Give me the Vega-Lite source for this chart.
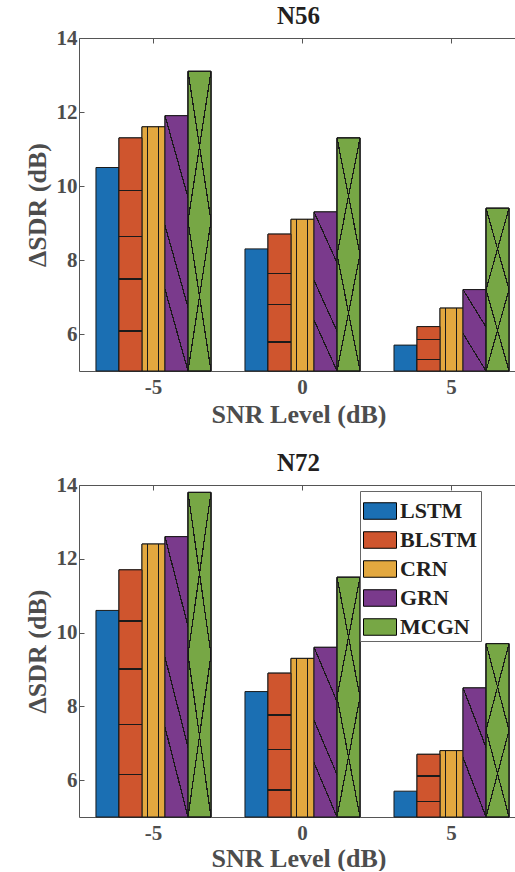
{
  "$schema": "https://vega.github.io/schema/vega-lite/v6.json",
  "padding": {"left": 24, "top": 4, "right": 0, "bottom": 0},
  "config": {
    "font": "Liberation Serif",
    "view": {"stroke": null},
    "axis": {
      "labelFont": "Liberation Serif", "labelFontWeight": "bold", "labelFontSize": 21, "labelColor": "#4d4d4d",
      "titleFont": "Liberation Serif", "titleFontWeight": "bold", "titleFontSize": 26, "titleColor": "#4d4d4d",
      "domainColor": "#555555", "tickColor": "#555555", "grid": false
    },
    "legend": {"labelFont": "Liberation Serif"},
    "title": {"font": "Liberation Serif", "fontWeight": "bold", "fontSize": 25, "color": "#231f20"}
  },
  "datasets": {
    "n56": [
      {"snr": "-5", "model": "LSTM", "sdr": 10.5},
      {"snr": "-5", "model": "BLSTM", "sdr": 11.3},
      {"snr": "-5", "model": "CRN", "sdr": 11.6},
      {"snr": "-5", "model": "GRN", "sdr": 11.9},
      {"snr": "-5", "model": "MCGN", "sdr": 13.1},
      {"snr": "0", "model": "LSTM", "sdr": 8.3},
      {"snr": "0", "model": "BLSTM", "sdr": 8.7},
      {"snr": "0", "model": "CRN", "sdr": 9.1},
      {"snr": "0", "model": "GRN", "sdr": 9.3},
      {"snr": "0", "model": "MCGN", "sdr": 11.3},
      {"snr": "5", "model": "LSTM", "sdr": 5.7},
      {"snr": "5", "model": "BLSTM", "sdr": 6.2},
      {"snr": "5", "model": "CRN", "sdr": 6.7},
      {"snr": "5", "model": "GRN", "sdr": 7.2},
      {"snr": "5", "model": "MCGN", "sdr": 9.4}
    ],
    "n72": [
      {"snr": "-5", "model": "LSTM", "sdr": 10.6},
      {"snr": "-5", "model": "BLSTM", "sdr": 11.7},
      {"snr": "-5", "model": "CRN", "sdr": 12.4},
      {"snr": "-5", "model": "GRN", "sdr": 12.6},
      {"snr": "-5", "model": "MCGN", "sdr": 13.8},
      {"snr": "0", "model": "LSTM", "sdr": 8.4},
      {"snr": "0", "model": "BLSTM", "sdr": 8.9},
      {"snr": "0", "model": "CRN", "sdr": 9.3},
      {"snr": "0", "model": "GRN", "sdr": 9.6},
      {"snr": "0", "model": "MCGN", "sdr": 11.5},
      {"snr": "5", "model": "LSTM", "sdr": 5.7},
      {"snr": "5", "model": "BLSTM", "sdr": 6.7},
      {"snr": "5", "model": "CRN", "sdr": 6.8},
      {"snr": "5", "model": "GRN", "sdr": 8.5},
      {"snr": "5", "model": "MCGN", "sdr": 9.7}
    ]
  },
  "spacing": 24,
  "resolve": {"legend": {"color": "independent"}},
  "vconcat": [
    {
      "title": {"text": "N56", "offset": -2},
      "width": 439, "height": 333,
      "data": {"name": "n56"},
      "resolve": {"axis": {"x": "independent"}},
      "encoding": {
        "x": {"field": "snr", "type": "nominal", "sort": null,
              "scale": {"paddingInner": 0.228, "paddingOuter": 0.087, "align": 0.654},
              "axis": {"title": "SNR Level (dB)", "labelAngle": 0, "tickSize": -5, "labelPadding": 10, "titlePadding": 4}},
        "xOffset": {"field": "model", "type": "nominal", "sort": ["LSTM", "BLSTM", "CRN", "GRN", "MCGN"]},
        "y": {"field": "sdr", "type": "quantitative",
              "scale": {"domain": [5, 14], "nice": false, "zero": false},
              "axis": {"values": [6, 8, 10, 12, 14], "title": "ΔSDR (dB)", "tickSize": -5, "labelPadding": 7, "titlePadding": 6}},
        "y2": {"datum": 5}
      },
      "layer": [
        {
          "mark": {"type": "bar", "stroke": "#1a1a1a", "strokeWidth": 1},
          "encoding": {
            "color": {"field": "model", "type": "nominal",
                      "scale": {"domain": ["LSTM", "BLSTM", "CRN", "GRN", "MCGN"], "range": ["#1B6FB3", "#CF552E", "#E3A83F", "#7A3A8C", "#77A745"]},
                      "legend": null}
          }
        },
        {
          "transform": [{"filter": "datum.model == 'CRN'"}],
          "encoding": {"x": {"field": "snr", "type": "nominal", "sort": null, "axis": null}},
          "mark": {"type": "bar", "stroke": "#1a1a1a", "strokeWidth": 1,
                   "fill": {"gradient": "linear", "x1": 0, "y1": 0, "x2": 1, "y2": 0, "stops": [
                     {"offset": 0, "color": "#E3A83F"}, {"offset": 0.2, "color": "#E3A83F"}, {"offset": 0.2, "color": "#1a1a1a"},
                     {"offset": 0.245, "color": "#1a1a1a"}, {"offset": 0.245, "color": "#E3A83F"}, {"offset": 0.68, "color": "#E3A83F"},
                     {"offset": 0.68, "color": "#1a1a1a"}, {"offset": 0.725, "color": "#1a1a1a"}, {"offset": 0.725, "color": "#E3A83F"},
                     {"offset": 1, "color": "#E3A83F"}]}}
        },
        {
          "transform": [{"filter": "datum.model == 'BLSTM' && datum.snr == '-5'"}],
          "encoding": {"x": {"field": "snr", "type": "nominal", "sort": null, "axis": null}},
          "mark": {"type": "bar", "stroke": "#1a1a1a", "strokeWidth": 1,
                   "fill": {"gradient": "linear", "x1": 0, "y1": 0, "x2": 0, "y2": 1, "stops": [
                     {"offset": 0, "color": "#CF552E"}, {"offset": 0.222, "color": "#CF552E"}, {"offset": 0.222, "color": "#1a1a1a"},
                     {"offset": 0.228, "color": "#1a1a1a"}, {"offset": 0.228, "color": "#CF552E"}, {"offset": 0.421, "color": "#CF552E"},
                     {"offset": 0.421, "color": "#1a1a1a"}, {"offset": 0.427, "color": "#1a1a1a"}, {"offset": 0.427, "color": "#CF552E"},
                     {"offset": 0.603, "color": "#CF552E"}, {"offset": 0.603, "color": "#1a1a1a"}, {"offset": 0.609, "color": "#1a1a1a"},
                     {"offset": 0.609, "color": "#CF552E"}, {"offset": 0.825, "color": "#CF552E"}, {"offset": 0.825, "color": "#1a1a1a"},
                     {"offset": 0.831, "color": "#1a1a1a"}, {"offset": 0.831, "color": "#CF552E"}, {"offset": 1, "color": "#CF552E"}]}}
        },
        {
          "transform": [{"filter": "datum.model == 'BLSTM' && datum.snr == '0'"}],
          "encoding": {"x": {"field": "snr", "type": "nominal", "sort": null, "axis": null}},
          "mark": {"type": "bar", "stroke": "#1a1a1a", "strokeWidth": 1,
                   "fill": {"gradient": "linear", "x1": 0, "y1": 0, "x2": 0, "y2": 1, "stops": [
                     {"offset": 0, "color": "#CF552E"}, {"offset": 0.284, "color": "#CF552E"}, {"offset": 0.284, "color": "#1a1a1a"},
                     {"offset": 0.294, "color": "#1a1a1a"}, {"offset": 0.294, "color": "#CF552E"}, {"offset": 0.508, "color": "#CF552E"},
                     {"offset": 0.508, "color": "#1a1a1a"}, {"offset": 0.518, "color": "#1a1a1a"}, {"offset": 0.518, "color": "#CF552E"},
                     {"offset": 0.784, "color": "#CF552E"}, {"offset": 0.784, "color": "#1a1a1a"}, {"offset": 0.794, "color": "#1a1a1a"},
                     {"offset": 0.794, "color": "#CF552E"}, {"offset": 1, "color": "#CF552E"}]}}
        },
        {
          "transform": [{"filter": "datum.model == 'BLSTM' && datum.snr == '5'"}],
          "encoding": {"x": {"field": "snr", "type": "nominal", "sort": null, "axis": null}},
          "mark": {"type": "bar", "stroke": "#1a1a1a", "strokeWidth": 1,
                   "fill": {"gradient": "linear", "x1": 0, "y1": 0, "x2": 0, "y2": 1, "stops": [
                     {"offset": 0, "color": "#CF552E"}, {"offset": 0.283, "color": "#CF552E"}, {"offset": 0.283, "color": "#1a1a1a"},
                     {"offset": 0.313, "color": "#1a1a1a"}, {"offset": 0.313, "color": "#CF552E"}, {"offset": 0.733, "color": "#CF552E"},
                     {"offset": 0.733, "color": "#1a1a1a"}, {"offset": 0.763, "color": "#1a1a1a"}, {"offset": 0.763, "color": "#CF552E"},
                     {"offset": 1, "color": "#CF552E"}]}}
        },
        {
          "transform": [{"filter": "datum.model == 'GRN' && datum.snr != '5'"}],
          "encoding": {"x": {"field": "snr", "type": "nominal", "sort": null, "axis": null}},
          "mark": {"type": "bar", "stroke": "#1a1a1a", "strokeWidth": 1,
                   "fill": {"gradient": "linear", "x1": 1, "y1": 0, "x2": 0.6168, "y2": 1.1974, "stops": [
                     {"offset": 0, "color": "#7A3A8C"}, {"offset": 0.2356, "color": "#7A3A8C"}, {"offset": 0.2356, "color": "#1a1a1a"},
                     {"offset": 0.2492, "color": "#1a1a1a"}, {"offset": 0.2492, "color": "#7A3A8C"}, {"offset": 0.5614, "color": "#7A3A8C"},
                     {"offset": 0.5614, "color": "#1a1a1a"}, {"offset": 0.575, "color": "#1a1a1a"}, {"offset": 0.575, "color": "#7A3A8C"},
                     {"offset": 0.7508, "color": "#7A3A8C"}, {"offset": 0.7508, "color": "#1a1a1a"}, {"offset": 0.7644, "color": "#1a1a1a"},
                     {"offset": 0.7644, "color": "#7A3A8C"}, {"offset": 1, "color": "#7A3A8C"}]}}
        },
        {
          "transform": [{"filter": "datum.model == 'GRN' && datum.snr == '5'"}],
          "encoding": {"x": {"field": "snr", "type": "nominal", "sort": null, "axis": null}},
          "mark": {"type": "bar", "stroke": "#1a1a1a", "strokeWidth": 1,
                   "fill": {"gradient": "linear", "x1": 1, "y1": 0, "x2": 0.4457, "y2": 1.205, "stops": [
                     {"offset": 0, "color": "#7A3A8C"}, {"offset": 0.3057, "color": "#7A3A8C"}, {"offset": 0.3057, "color": "#1a1a1a"},
                     {"offset": 0.3243, "color": "#1a1a1a"}, {"offset": 0.3243, "color": "#7A3A8C"}, {"offset": 0.6756, "color": "#7A3A8C"},
                     {"offset": 0.6756, "color": "#1a1a1a"}, {"offset": 0.6942, "color": "#1a1a1a"}, {"offset": 0.6942, "color": "#7A3A8C"},
                     {"offset": 1, "color": "#7A3A8C"}]}}
        },
        {
          "transform": [{"filter": "datum.model == 'MCGN'"}],
          "encoding": {"x": {"field": "snr", "type": "nominal", "sort": null, "axis": null}},
          "mark": {"type": "bar", "stroke": "#1a1a1a", "strokeWidth": 1,
                   "fill": {"gradient": "linear", "x1": 1, "y1": 0, "x2": 0.4, "y2": 1.2, "stops": [
                     {"offset": 0, "color": "#77A745"}, {"offset": 0.3245, "color": "#77A745"}, {"offset": 0.3245, "color": "#1a1a1a"},
                     {"offset": 0.3421, "color": "#1a1a1a"}, {"offset": 0.3421, "color": "#77A745"}, {"offset": 0.6579, "color": "#77A745"},
                     {"offset": 0.6579, "color": "#1a1a1a"}, {"offset": 0.6755, "color": "#1a1a1a"}, {"offset": 0.6755, "color": "#77A745"},
                     {"offset": 1, "color": "#77A745"}]}}
        },
        {
          "transform": [{"filter": "datum.model == 'MCGN'"}],
          "encoding": {"x": {"field": "snr", "type": "nominal", "sort": null, "axis": null}},
          "mark": {"type": "bar", "stroke": "#1a1a1a", "strokeWidth": 1,
                   "fill": {"gradient": "linear", "x1": 0, "y1": 0, "x2": 0.6, "y2": 1.2, "stops": [
                     {"offset": 0, "color": "transparent"}, {"offset": 0.3245, "color": "transparent"}, {"offset": 0.3245, "color": "#1a1a1a"},
                     {"offset": 0.3421, "color": "#1a1a1a"}, {"offset": 0.3421, "color": "transparent"}, {"offset": 0.6579, "color": "transparent"},
                     {"offset": 0.6579, "color": "#1a1a1a"}, {"offset": 0.6755, "color": "#1a1a1a"}, {"offset": 0.6755, "color": "transparent"},
                     {"offset": 1, "color": "transparent"}]}}
        },
        {
          "mark": {"type": "bar", "opacity": 0},
          "encoding": {
            "x": {"field": "snr", "type": "nominal", "sort": null,
                  "axis": {"orient": "top", "labels": false, "title": null, "tickSize": -5, "domainColor": "#555555"}}
          }
        }
      ]
    },
    {
      "title": {"text": "N72", "offset": -2},
      "width": 439, "height": 332,
      "data": {"name": "n72"},
      "resolve": {"axis": {"x": "independent"}},
      "encoding": {
        "x": {"field": "snr", "type": "nominal", "sort": null,
              "scale": {"paddingInner": 0.228, "paddingOuter": 0.087, "align": 0.654},
              "axis": {"title": "SNR Level (dB)", "labelAngle": 0, "tickSize": -5, "labelPadding": 10, "titlePadding": 2}},
        "xOffset": {"field": "model", "type": "nominal", "sort": ["LSTM", "BLSTM", "CRN", "GRN", "MCGN"]},
        "y": {"field": "sdr", "type": "quantitative",
              "scale": {"domain": [5, 14], "nice": false, "zero": false},
              "axis": {"values": [6, 8, 10, 12, 14], "title": "ΔSDR (dB)", "tickSize": -5, "labelPadding": 7, "titlePadding": 6}},
        "y2": {"datum": 5}
      },
      "layer": [
        {
          "mark": {"type": "bar", "stroke": "#1a1a1a", "strokeWidth": 1},
          "encoding": {
            "color": {"field": "model", "type": "nominal",
                      "scale": {"domain": ["LSTM", "BLSTM", "CRN", "GRN", "MCGN"], "range": ["#1B6FB3", "#CF552E", "#E3A83F", "#7A3A8C", "#77A745"]},
                      "legend": {"orient": "none", "legendX": 281, "legendY": 6, "title": null,
                                 "symbolType": "M-1,-0.5H1V0.5H-1Z", "symbolSize": 1089,
                                 "symbolStrokeColor": "#000000", "symbolStrokeWidth": 1, "symbolOpacity": 1,
                                 "labelFont": "Liberation Serif", "labelFontWeight": "bold", "labelFontSize": 22, "labelColor": "#231f20",
                                 "labelOffset": 3, "labelLimit": 300, "rowPadding": 1,
                                 "strokeColor": "#666666", "fillColor": "#ffffff", "padding": 3}}
          }
        },
        {
          "transform": [{"filter": "datum.model == 'CRN'"}],
          "encoding": {"x": {"field": "snr", "type": "nominal", "sort": null, "axis": null}},
          "mark": {"type": "bar", "stroke": "#1a1a1a", "strokeWidth": 1,
                   "fill": {"gradient": "linear", "x1": 0, "y1": 0, "x2": 1, "y2": 0, "stops": [
                     {"offset": 0, "color": "#E3A83F"}, {"offset": 0.22, "color": "#E3A83F"}, {"offset": 0.22, "color": "#1a1a1a"},
                     {"offset": 0.265, "color": "#1a1a1a"}, {"offset": 0.265, "color": "#E3A83F"}, {"offset": 0.7, "color": "#E3A83F"},
                     {"offset": 0.7, "color": "#1a1a1a"}, {"offset": 0.745, "color": "#1a1a1a"}, {"offset": 0.745, "color": "#E3A83F"},
                     {"offset": 1, "color": "#E3A83F"}]}}
        },
        {
          "transform": [{"filter": "datum.model == 'BLSTM' && datum.snr == '-5'"}],
          "encoding": {"x": {"field": "snr", "type": "nominal", "sort": null, "axis": null}},
          "mark": {"type": "bar", "stroke": "#1a1a1a", "strokeWidth": 1,
                   "fill": {"gradient": "linear", "x1": 0, "y1": 0, "x2": 0, "y2": 1, "stops": [
                     {"offset": 0, "color": "#CF552E"}, {"offset": 0.204, "color": "#CF552E"}, {"offset": 0.204, "color": "#1a1a1a"},
                     {"offset": 0.21, "color": "#1a1a1a"}, {"offset": 0.21, "color": "#CF552E"}, {"offset": 0.399, "color": "#CF552E"},
                     {"offset": 0.399, "color": "#1a1a1a"}, {"offset": 0.405, "color": "#1a1a1a"}, {"offset": 0.405, "color": "#CF552E"},
                     {"offset": 0.622, "color": "#CF552E"}, {"offset": 0.622, "color": "#1a1a1a"}, {"offset": 0.628, "color": "#1a1a1a"},
                     {"offset": 0.628, "color": "#CF552E"}, {"offset": 0.825, "color": "#CF552E"}, {"offset": 0.825, "color": "#1a1a1a"},
                     {"offset": 0.831, "color": "#1a1a1a"}, {"offset": 0.831, "color": "#CF552E"}, {"offset": 1, "color": "#CF552E"}]}}
        },
        {
          "transform": [{"filter": "datum.model == 'BLSTM' && datum.snr == '0'"}],
          "encoding": {"x": {"field": "snr", "type": "nominal", "sort": null, "axis": null}},
          "mark": {"type": "bar", "stroke": "#1a1a1a", "strokeWidth": 1,
                   "fill": {"gradient": "linear", "x1": 0, "y1": 0, "x2": 0, "y2": 1, "stops": [
                     {"offset": 0, "color": "#CF552E"}, {"offset": 0.287, "color": "#CF552E"}, {"offset": 0.287, "color": "#1a1a1a"},
                     {"offset": 0.296, "color": "#1a1a1a"}, {"offset": 0.296, "color": "#CF552E"}, {"offset": 0.528, "color": "#CF552E"},
                     {"offset": 0.528, "color": "#1a1a1a"}, {"offset": 0.537, "color": "#1a1a1a"}, {"offset": 0.537, "color": "#CF552E"},
                     {"offset": 0.808, "color": "#CF552E"}, {"offset": 0.808, "color": "#1a1a1a"}, {"offset": 0.817, "color": "#1a1a1a"},
                     {"offset": 0.817, "color": "#CF552E"}, {"offset": 1, "color": "#CF552E"}]}}
        },
        {
          "transform": [{"filter": "datum.model == 'BLSTM' && datum.snr == '5'"}],
          "encoding": {"x": {"field": "snr", "type": "nominal", "sort": null, "axis": null}},
          "mark": {"type": "bar", "stroke": "#1a1a1a", "strokeWidth": 1,
                   "fill": {"gradient": "linear", "x1": 0, "y1": 0, "x2": 0, "y2": 1, "stops": [
                     {"offset": 0, "color": "#CF552E"}, {"offset": 0.335, "color": "#CF552E"}, {"offset": 0.335, "color": "#1a1a1a"},
                     {"offset": 0.355, "color": "#1a1a1a"}, {"offset": 0.355, "color": "#CF552E"}, {"offset": 0.741, "color": "#CF552E"},
                     {"offset": 0.741, "color": "#1a1a1a"}, {"offset": 0.761, "color": "#1a1a1a"}, {"offset": 0.761, "color": "#CF552E"},
                     {"offset": 1, "color": "#CF552E"}]}}
        },
        {
          "transform": [{"filter": "datum.model == 'GRN' && datum.snr != '5'"}],
          "encoding": {"x": {"field": "snr", "type": "nominal", "sort": null, "axis": null}},
          "mark": {"type": "bar", "stroke": "#1a1a1a", "strokeWidth": 1,
                   "fill": {"gradient": "linear", "x1": 1, "y1": 0, "x2": 0.6168, "y2": 1.1974, "stops": [
                     {"offset": 0, "color": "#7A3A8C"}, {"offset": 0.2356, "color": "#7A3A8C"}, {"offset": 0.2356, "color": "#1a1a1a"},
                     {"offset": 0.2492, "color": "#1a1a1a"}, {"offset": 0.2492, "color": "#7A3A8C"}, {"offset": 0.5614, "color": "#7A3A8C"},
                     {"offset": 0.5614, "color": "#1a1a1a"}, {"offset": 0.575, "color": "#1a1a1a"}, {"offset": 0.575, "color": "#7A3A8C"},
                     {"offset": 0.7508, "color": "#7A3A8C"}, {"offset": 0.7508, "color": "#1a1a1a"}, {"offset": 0.7644, "color": "#1a1a1a"},
                     {"offset": 0.7644, "color": "#7A3A8C"}, {"offset": 1, "color": "#7A3A8C"}]}}
        },
        {
          "transform": [{"filter": "datum.model == 'GRN' && datum.snr == '5'"}],
          "encoding": {"x": {"field": "snr", "type": "nominal", "sort": null, "axis": null}},
          "mark": {"type": "bar", "stroke": "#1a1a1a", "strokeWidth": 1,
                   "fill": {"gradient": "linear", "x1": 1, "y1": 0, "x2": 0.4457, "y2": 1.205, "stops": [
                     {"offset": 0, "color": "#7A3A8C"}, {"offset": 0.3057, "color": "#7A3A8C"}, {"offset": 0.3057, "color": "#1a1a1a"},
                     {"offset": 0.3243, "color": "#1a1a1a"}, {"offset": 0.3243, "color": "#7A3A8C"}, {"offset": 0.6756, "color": "#7A3A8C"},
                     {"offset": 0.6756, "color": "#1a1a1a"}, {"offset": 0.6942, "color": "#1a1a1a"}, {"offset": 0.6942, "color": "#7A3A8C"},
                     {"offset": 1, "color": "#7A3A8C"}]}}
        },
        {
          "transform": [{"filter": "datum.model == 'MCGN'"}],
          "encoding": {"x": {"field": "snr", "type": "nominal", "sort": null, "axis": null}},
          "mark": {"type": "bar", "stroke": "#1a1a1a", "strokeWidth": 1,
                   "fill": {"gradient": "linear", "x1": 1, "y1": 0, "x2": 0.4, "y2": 1.2, "stops": [
                     {"offset": 0, "color": "#77A745"}, {"offset": 0.3245, "color": "#77A745"}, {"offset": 0.3245, "color": "#1a1a1a"},
                     {"offset": 0.3421, "color": "#1a1a1a"}, {"offset": 0.3421, "color": "#77A745"}, {"offset": 0.6579, "color": "#77A745"},
                     {"offset": 0.6579, "color": "#1a1a1a"}, {"offset": 0.6755, "color": "#1a1a1a"}, {"offset": 0.6755, "color": "#77A745"},
                     {"offset": 1, "color": "#77A745"}]}}
        },
        {
          "transform": [{"filter": "datum.model == 'MCGN'"}],
          "encoding": {"x": {"field": "snr", "type": "nominal", "sort": null, "axis": null}},
          "mark": {"type": "bar", "stroke": "#1a1a1a", "strokeWidth": 1,
                   "fill": {"gradient": "linear", "x1": 0, "y1": 0, "x2": 0.6, "y2": 1.2, "stops": [
                     {"offset": 0, "color": "transparent"}, {"offset": 0.3245, "color": "transparent"}, {"offset": 0.3245, "color": "#1a1a1a"},
                     {"offset": 0.3421, "color": "#1a1a1a"}, {"offset": 0.3421, "color": "transparent"}, {"offset": 0.6579, "color": "transparent"},
                     {"offset": 0.6579, "color": "#1a1a1a"}, {"offset": 0.6755, "color": "#1a1a1a"}, {"offset": 0.6755, "color": "transparent"},
                     {"offset": 1, "color": "transparent"}]}}
        },
        {
          "mark": {"type": "bar", "opacity": 0},
          "encoding": {
            "x": {"field": "snr", "type": "nominal", "sort": null,
                  "axis": {"orient": "top", "labels": false, "title": null, "tickSize": -5, "domainColor": "#555555"}}
          }
        }
      ]
    }
  ]
}
